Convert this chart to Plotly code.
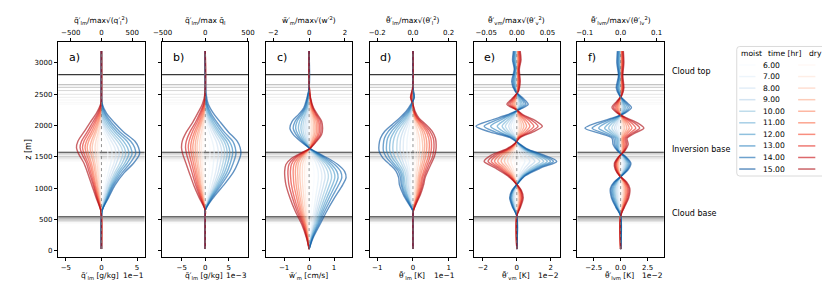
import plotly.graph_objects as go

# ---------------- data ----------------
TIMES = [6, 7, 8, 9, 10, 11, 12, 13, 14, 15]
TIME_LABELS = ["6.00", "7.00", "8.00", "9.00", "10.00", "11.00", "12.00", "13.00", "14.00", "15.00"]

# heights of the boundary lines per time [m]
CLOUD_TOP = [2340, 2360, 2372, 2409, 2452, 2500, 2560, 2612, 2653, 2813]
INV_BASE = [1432, 1440, 1450, 1459, 1475, 1485, 1500, 1512, 1549, 1576]
CLOUD_BASE = [440, 450, 459, 465, 470, 478, 485, 500, 517, 544]

# panel a/b heights
Z_AB = [30, 560, 650, 850, 1050, 1250, 1400, 1550, 1650, 1750, 1900, 2050, 2200, 2350, 2500, 3190]
# a) q_t' [1e-1 g/kg]
QT_MOIST = [
    [0, 0, 0.02, 0.15, 0.33, 0.55, 0.8, 0.9, 0.8, 0.55, 0.2, 0.05, 0, 0, 0, 0],
    [0, 0, 0.03, 0.25, 0.55, 0.95, 1.3, 1.5, 1.35, 1.0, 0.4, 0.1, 0, 0, 0, 0],
    [0, 0, 0.05, 0.35, 0.75, 1.25, 1.75, 2.05, 1.85, 1.4, 0.65, 0.15, 0, 0, 0, 0],
    [0, 0, 0.05, 0.45, 0.9, 1.55, 2.1, 2.5, 2.3, 1.8, 0.9, 0.25, 0, 0, 0, 0],
    [0, 0, 0.05, 0.55, 1.1, 1.85, 2.55, 3.0, 2.8, 2.25, 1.2, 0.4, 0.05, 0, 0, 0],
    [0, 0, 0.1, 0.65, 1.25, 2.1, 2.9, 3.4, 3.2, 2.65, 1.5, 0.6, 0.1, 0, 0, 0],
    [0, 0, 0.1, 0.75, 1.4, 2.35, 3.25, 3.85, 3.65, 3.1, 1.85, 0.85, 0.2, 0, 0, 0],
    [0, 0, 0.1, 0.8, 1.55, 2.6, 3.6, 4.3, 4.1, 3.6, 2.2, 1.1, 0.35, 0, 0, 0],
    [0, 0, 0.1, 0.9, 1.7, 2.9, 4.0, 4.8, 4.65, 4.1, 2.6, 1.4, 0.5, 0.05, 0, 0],
    [0, 0, 0.1, 1.0, 1.9, 3.2, 4.5, 5.35, 5.2, 4.7, 3.1, 1.8, 0.7, 0.1, 0, 0],
]
QT_DRY = [
    [0, 0, -0.01, -0.08, -0.14, -0.2, -0.26, -0.34, -0.37, -0.32, -0.18, -0.07, 0, 0, 0, 0],
    [0, 0, -0.02, -0.13, -0.23, -0.33, -0.42, -0.55, -0.6, -0.52, -0.3, -0.12, 0, 0, 0, 0],
    [0, 0, -0.03, -0.2, -0.35, -0.5, -0.63, -0.82, -0.9, -0.78, -0.45, -0.2, -0.03, 0, 0, 0],
    [0, 0, -0.04, -0.28, -0.5, -0.72, -0.9, -1.2, -1.3, -1.15, -0.7, -0.33, -0.07, 0, 0, 0],
    [0, 0, -0.05, -0.35, -0.62, -0.9, -1.12, -1.47, -1.6, -1.42, -0.9, -0.45, -0.1, 0, 0, 0],
    [0, 0, -0.06, -0.43, -0.78, -1.12, -1.4, -1.83, -2.0, -1.8, -1.15, -0.6, -0.15, 0, 0, 0],
    [0, 0, -0.07, -0.5, -0.9, -1.3, -1.62, -2.1, -2.3, -2.1, -1.4, -0.8, -0.25, 0, 0, 0],
    [0, 0, -0.08, -0.58, -1.03, -1.5, -1.87, -2.43, -2.66, -2.45, -1.7, -1.0, -0.35, 0, 0, 0],
    [0, 0, -0.1, -0.65, -1.15, -1.7, -2.1, -2.75, -3.0, -2.8, -2.0, -1.25, -0.5, -0.05, 0, 0],
    [0, 0, -0.1, -0.75, -1.35, -1.95, -2.45, -3.2, -3.5, -3.3, -2.45, -1.6, -0.7, -0.1, 0, 0],
]
# b) q_l' [1e-3 g/kg]
QL_MOIST = [
    [0, 0, 0, 0.22, 0.5, 0.77, 0.9, 1.0, 0.95, 0.78, 0.42, 0.15, 0.03, 0, 0, 0],
    [0, 0, 0, 0.43, 0.98, 1.48, 1.73, 1.9, 1.8, 1.5, 0.85, 0.35, 0.08, 0, 0, 0],
    [0, 0, 0, 0.63, 1.44, 2.18, 2.55, 2.8, 2.65, 2.3, 1.35, 0.6, 0.15, 0, 0, 0],
    [0, 0, 0, 0.78, 1.8, 2.71, 3.17, 3.5, 3.35, 2.9, 1.8, 0.85, 0.25, 0, 0, 0],
    [0, 0, 0, 0.92, 2.1, 3.2, 3.73, 4.1, 3.95, 3.45, 2.2, 1.1, 0.35, 0.05, 0, 0],
    [0, 0, 0, 1.05, 2.4, 3.63, 4.24, 4.65, 4.5, 4.0, 2.6, 1.4, 0.5, 0.1, 0, 0],
    [0, 0, 0, 1.17, 2.7, 4.07, 4.76, 5.2, 5.05, 4.5, 3.0, 1.7, 0.7, 0.15, 0, 0],
    [0, 0, 0, 1.3, 3.0, 4.55, 5.3, 5.8, 5.7, 5.1, 3.5, 2.1, 0.9, 0.25, 0, 0],
    [0, 0, 0, 1.46, 3.35, 5.07, 5.93, 6.5, 6.36, 5.85, 4.0, 2.5, 1.2, 0.35, 0.05, 0],
    [0, 0, 0, 1.7, 3.9, 5.9, 6.9, 7.55, 7.4, 6.8, 4.9, 3.25, 1.7, 0.6, 0.2, 0],
]
QL_DRY = [
    [0, 0, 0, -0.13, -0.25, -0.34, -0.41, -0.48, -0.5, -0.47, -0.33, -0.17, -0.05, 0, 0, 0],
    [0, 0, 0, -0.22, -0.42, -0.58, -0.7, -0.82, -0.85, -0.8, -0.58, -0.3, -0.08, 0, 0, 0],
    [0, 0, 0, -0.33, -0.61, -0.85, -1.03, -1.2, -1.25, -1.18, -0.85, -0.45, -0.15, 0, 0, 0],
    [0, 0, 0, -0.46, -0.86, -1.19, -1.44, -1.68, -1.75, -1.65, -1.25, -0.7, -0.25, 0, 0, 0],
    [0, 0, 0, -0.56, -1.05, -1.46, -1.76, -2.06, -2.15, -2.05, -1.55, -0.9, -0.35, -0.05, 0, 0],
    [0, 0, 0, -0.68, -1.27, -1.77, -2.13, -2.5, -2.65, -2.5, -1.95, -1.15, -0.5, -0.1, 0, 0],
    [0, 0, 0, -0.79, -1.5, -2.07, -2.5, -2.93, -3.1, -2.95, -2.3, -1.4, -0.7, -0.15, 0, 0],
    [0, 0, 0, -0.92, -1.74, -2.41, -2.91, -3.41, -3.6, -3.45, -2.75, -1.75, -0.9, -0.25, 0, 0],
    [0, 0, 0, -1.08, -2.03, -2.82, -3.4, -3.98, -4.2, -4.05, -3.25, -2.1, -1.15, -0.35, 0, 0],
    [0, 0, 0, -1.3, -2.45, -3.4, -4.1, -4.8, -5.05, -4.9, -4.0, -2.7, -1.6, -0.6, -0.1, 0],
]

# c) w' [cm/s]
Z_C = [30, 200, 420, 630, 850, 1060, 1170, 1270, 1380, 1480, 1570, 1640, 1750, 1860, 1960, 2070, 2180, 2280, 2440, 2600, 3190]
W_MOIST = [
    [0, 0.02, 0.06, 0.09, 0.14, 0.18, 0.2, 0.19, 0.16, 0.1, 0.04, 0, 0, -0.01, -0.01, -0.01, 0, 0, 0, 0, 0],
    [0, 0.04, 0.11, 0.18, 0.26, 0.34, 0.37, 0.36, 0.29, 0.19, 0.08, 0, -0.02, -0.04, -0.05, -0.04, -0.03, -0.01, 0, 0, 0],
    [0, 0.05, 0.15, 0.24, 0.35, 0.47, 0.51, 0.49, 0.4, 0.26, 0.11, 0.01, -0.05, -0.08, -0.1, -0.09, -0.05, -0.03, -0.01, 0, 0],
    [0, 0.06, 0.19, 0.3, 0.44, 0.58, 0.64, 0.61, 0.5, 0.33, 0.14, 0.01, -0.08, -0.14, -0.17, -0.15, -0.09, -0.05, -0.02, 0, 0],
    [0, 0.08, 0.22, 0.36, 0.53, 0.7, 0.77, 0.74, 0.6, 0.4, 0.17, 0.01, -0.11, -0.21, -0.25, -0.22, -0.14, -0.07, -0.03, 0, 0],
    [0, 0.09, 0.26, 0.43, 0.62, 0.82, 0.9, 0.86, 0.7, 0.46, 0.2, 0.01, -0.15, -0.28, -0.33, -0.29, -0.18, -0.09, -0.04, 0, 0],
    [0, 0.1, 0.3, 0.49, 0.71, 0.94, 1.03, 0.99, 0.8, 0.53, 0.23, 0.01, -0.2, -0.36, -0.43, -0.38, -0.24, -0.12, -0.05, 0, 0],
    [0, 0.12, 0.34, 0.55, 0.8, 1.06, 1.16, 1.11, 0.9, 0.6, 0.26, 0.02, -0.25, -0.45, -0.54, -0.48, -0.29, -0.15, -0.06, 0, 0],
    [0, 0.13, 0.38, 0.62, 0.9, 1.19, 1.31, 1.26, 1.02, 0.67, 0.29, 0.02, -0.29, -0.53, -0.64, -0.56, -0.35, -0.18, -0.07, 0, 0],
    [0, 0.15, 0.43, 0.7, 1.02, 1.35, 1.48, 1.42, 1.15, 0.76, 0.33, 0.02, -0.35, -0.64, -0.77, -0.68, -0.42, -0.22, -0.09, 0, 0],
]
W_DRY = [
    [0, -0.01, -0.03, -0.05, -0.07, -0.09, -0.09, -0.09, -0.09, -0.06, -0.03, 0, 0.02, 0.03, 0.03, 0.03, 0.02, 0.01, 0, 0, 0],
    [0, -0.02, -0.05, -0.1, -0.14, -0.17, -0.18, -0.18, -0.17, -0.13, -0.05, 0.01, 0.04, 0.07, 0.07, 0.07, 0.04, 0.02, 0.01, 0, 0],
    [0, -0.03, -0.08, -0.15, -0.21, -0.26, -0.27, -0.27, -0.26, -0.19, -0.08, 0.01, 0.07, 0.11, 0.12, 0.11, 0.07, 0.04, 0.01, 0, 0],
    [0, -0.04, -0.11, -0.21, -0.29, -0.35, -0.37, -0.37, -0.35, -0.26, -0.11, 0.02, 0.1, 0.17, 0.18, 0.17, 0.11, 0.06, 0.02, 0, 0],
    [0, -0.05, -0.14, -0.26, -0.36, -0.44, -0.45, -0.46, -0.44, -0.33, -0.14, 0.02, 0.13, 0.22, 0.24, 0.22, 0.15, 0.08, 0.03, 0, 0],
    [0, -0.06, -0.16, -0.31, -0.43, -0.52, -0.54, -0.55, -0.52, -0.39, -0.16, 0.03, 0.17, 0.28, 0.3, 0.28, 0.18, 0.1, 0.03, 0, 0],
    [0, -0.07, -0.19, -0.36, -0.5, -0.61, -0.63, -0.64, -0.61, -0.46, -0.19, 0.03, 0.2, 0.34, 0.36, 0.34, 0.22, 0.12, 0.04, 0, 0],
    [0, -0.08, -0.22, -0.42, -0.59, -0.71, -0.74, -0.75, -0.71, -0.54, -0.22, 0.04, 0.23, 0.39, 0.42, 0.39, 0.26, 0.14, 0.05, 0.01, 0],
    [0, -0.09, -0.25, -0.48, -0.67, -0.81, -0.84, -0.85, -0.81, -0.61, -0.25, 0.04, 0.27, 0.45, 0.48, 0.45, 0.29, 0.16, 0.05, 0.01, 0],
    [0, -0.1, -0.29, -0.55, -0.77, -0.93, -0.97, -0.98, -0.93, -0.7, -0.29, 0.05, 0.3, 0.5, 0.54, 0.5, 0.33, 0.18, 0.06, 0.01, 0],
]

# d) theta_l' [1e-1 K]
Z_D = [30, 560, 640, 750, 900, 1060, 1170, 1280, 1380, 1490, 1600, 1700, 1800, 1910, 2020, 2120, 2230, 2340, 2450, 2600, 3190]
THL_MOIST = [
    [0, 0, 0, -0.01, -0.02, -0.03, -0.03, -0.04, -0.05, -0.07, -0.08, -0.08, -0.08, -0.06, -0.04, -0.02, -0.01, 0, 0, 0, 0],
    [0, 0, 0, -0.02, -0.05, -0.07, -0.07, -0.09, -0.12, -0.15, -0.17, -0.17, -0.16, -0.13, -0.09, -0.05, -0.02, 0, 0, 0, 0],
    [0, 0, 0, -0.03, -0.08, -0.11, -0.11, -0.14, -0.18, -0.24, -0.27, -0.27, -0.26, -0.21, -0.14, -0.08, -0.03, 0, 0, 0, 0],
    [0, 0, 0, -0.05, -0.1, -0.14, -0.15, -0.18, -0.25, -0.32, -0.36, -0.36, -0.34, -0.28, -0.19, -0.11, -0.04, -0.01, 0, 0, 0],
    [0, 0, 0, -0.06, -0.13, -0.18, -0.19, -0.23, -0.31, -0.4, -0.45, -0.45, -0.43, -0.36, -0.25, -0.14, -0.06, -0.01, 0.01, 0, 0],
    [0, 0, 0, -0.07, -0.16, -0.22, -0.24, -0.28, -0.38, -0.5, -0.56, -0.56, -0.53, -0.45, -0.31, -0.18, -0.08, -0.02, 0.01, 0, 0],
    [0, 0, 0, -0.08, -0.18, -0.26, -0.27, -0.33, -0.44, -0.58, -0.65, -0.65, -0.62, -0.52, -0.37, -0.22, -0.1, -0.02, 0.02, 0, 0],
    [0, 0, 0, -0.09, -0.21, -0.3, -0.31, -0.37, -0.51, -0.66, -0.74, -0.74, -0.71, -0.6, -0.43, -0.27, -0.12, -0.03, 0.02, 0, 0],
    [0, 0, 0, -0.1, -0.24, -0.33, -0.35, -0.42, -0.57, -0.74, -0.83, -0.83, -0.8, -0.69, -0.5, -0.32, -0.15, -0.04, 0.03, 0, 0],
    [0, 0, 0, -0.12, -0.27, -0.38, -0.4, -0.48, -0.65, -0.85, -0.95, -0.95, -0.91, -0.79, -0.58, -0.38, -0.19, -0.06, 0.04, 0, 0],
]
THL_DRY = [
    [0, 0, 0, 0.01, 0.02, 0.03, 0.03, 0.04, 0.05, 0.05, 0.06, 0.06, 0.06, 0.04, 0.02, 0.01, 0, 0, 0, 0, 0],
    [0, 0, 0, 0.02, 0.04, 0.06, 0.07, 0.08, 0.1, 0.12, 0.13, 0.13, 0.12, 0.1, 0.05, 0.02, 0, 0, 0, 0, 0],
    [0, 0, 0, 0.03, 0.06, 0.09, 0.1, 0.12, 0.15, 0.17, 0.19, 0.19, 0.18, 0.14, 0.08, 0.03, 0, 0, -0.01, 0, 0],
    [0, 0, 0, 0.04, 0.09, 0.12, 0.14, 0.17, 0.21, 0.24, 0.27, 0.27, 0.25, 0.21, 0.12, 0.05, 0.01, 0, -0.02, 0, 0],
    [0, 0, 0, 0.05, 0.11, 0.15, 0.17, 0.21, 0.25, 0.3, 0.32, 0.33, 0.31, 0.26, 0.16, 0.06, 0.01, 0, -0.02, 0, 0],
    [0, 0, 0, 0.05, 0.13, 0.18, 0.2, 0.25, 0.3, 0.35, 0.38, 0.39, 0.37, 0.31, 0.19, 0.08, 0.02, 0, -0.03, 0, 0],
    [0, 0, 0.01, 0.06, 0.15, 0.21, 0.24, 0.3, 0.35, 0.42, 0.45, 0.46, 0.44, 0.37, 0.23, 0.1, 0.02, 0, -0.04, 0, 0],
    [0, 0, 0.01, 0.07, 0.17, 0.24, 0.27, 0.34, 0.4, 0.47, 0.51, 0.52, 0.5, 0.42, 0.27, 0.12, 0.03, 0, -0.05, 0, 0],
    [0, 0, 0.01, 0.08, 0.19, 0.27, 0.31, 0.38, 0.45, 0.54, 0.58, 0.59, 0.57, 0.48, 0.31, 0.14, 0.04, 0, -0.06, -0.01, 0],
    [0, 0, 0.01, 0.09, 0.21, 0.3, 0.34, 0.42, 0.5, 0.59, 0.64, 0.65, 0.63, 0.54, 0.36, 0.17, 0.06, 0, -0.07, -0.01, 0],
]

# e) theta_v' [1e-2 K]
Z_E = [30, 560, 700, 850, 960, 1060, 1200, 1330, 1430, 1530, 1630, 1720, 1810, 1900, 1990, 2080, 2170, 2250, 2340, 2430, 2550, 2700, 2900, 3050, 3190]
THV_MOIST = [
    [0, 0, -0.02, -0.03, -0.02, 0, 0.04, 0.12, 0.19, 0.13, 0.05, 0.01, -0.01, -0.05, -0.08, -0.05, -0.02, 0, 0.02, 0.01, 0, -0.01, 0, -0.01, -0.01],
    [0, 0, -0.05, -0.09, -0.06, 0, 0.1, 0.3, 0.48, 0.33, 0.12, 0.02, -0.03, -0.13, -0.19, -0.13, -0.05, 0.01, 0.05, 0.03, -0.01, -0.02, -0.01, -0.02, -0.02],
    [0, 0, -0.08, -0.14, -0.1, 0, 0.16, 0.48, 0.77, 0.52, 0.2, 0.03, -0.06, -0.23, -0.35, -0.23, -0.09, 0.01, 0.1, 0.06, -0.01, -0.04, -0.02, -0.04, -0.03],
    [0, 0, -0.11, -0.19, -0.14, 0, 0.23, 0.65, 1.06, 0.72, 0.27, 0.05, -0.08, -0.32, -0.48, -0.32, -0.12, 0.02, 0.13, 0.08, -0.02, -0.06, -0.03, -0.05, -0.04],
    [0, 0, -0.14, -0.24, -0.17, 0, 0.29, 0.83, 1.35, 0.92, 0.34, 0.06, -0.11, -0.45, -0.67, -0.45, -0.17, 0.03, 0.19, 0.11, -0.03, -0.08, -0.04, -0.07, -0.06],
    [0, 0, -0.17, -0.28, -0.2, 0, 0.34, 0.97, 1.58, 1.08, 0.4, 0.07, -0.14, -0.58, -0.86, -0.58, -0.22, 0.04, 0.24, 0.14, -0.04, -0.11, -0.05, -0.09, -0.07],
    [0, 0, -0.19, -0.32, -0.23, 0, 0.38, 1.1, 1.79, 1.22, 0.46, 0.08, -0.19, -0.77, -1.15, -0.77, -0.29, 0.05, 0.32, 0.19, -0.05, -0.14, -0.07, -0.12, -0.1],
    [0, 0, -0.21, -0.35, -0.25, 0, 0.42, 1.22, 1.98, 1.35, 0.51, 0.08, -0.26, -1.02, -1.54, -1.02, -0.38, 0.06, 0.43, 0.26, -0.06, -0.19, -0.1, -0.16, -0.13],
    [0, 0, -0.23, -0.38, -0.27, 0, 0.46, 1.33, 2.15, 1.46, 0.55, 0.09, -0.32, -1.28, -1.92, -1.28, -0.48, 0.08, 0.54, 0.32, -0.08, -0.24, -0.12, -0.2, -0.16],
    [0, 0, -0.25, -0.42, -0.3, 0, 0.5, 1.45, 2.35, 1.6, 0.6, 0.1, -0.4, -1.6, -2.4, -1.6, -0.6, 0.1, 0.67, 0.4, -0.1, -0.3, -0.15, -0.25, -0.2],
]
THV_DRY = [
    [0, 0, 0.02, 0.03, 0.02, 0, -0.04, -0.1, -0.15, -0.12, -0.05, -0.01, 0.01, 0.03, 0.05, 0.03, 0.01, 0, -0.02, -0.01, 0, 0.01, 0, 0.01, 0.01],
    [0, 0, 0.04, 0.07, 0.05, 0, -0.1, -0.23, -0.35, -0.27, -0.11, -0.02, 0.02, 0.08, 0.12, 0.09, 0.03, 0, -0.05, -0.02, 0.01, 0.02, 0.01, 0.02, 0.02],
    [0, 0, 0.06, 0.11, 0.08, 0, -0.15, -0.36, -0.54, -0.42, -0.17, -0.03, 0.03, 0.12, 0.19, 0.14, 0.05, 0, -0.08, -0.04, 0.01, 0.03, 0.02, 0.03, 0.03],
    [0, 0, 0.08, 0.14, 0.11, 0, -0.21, -0.49, -0.73, -0.57, -0.23, -0.04, 0.04, 0.18, 0.29, 0.21, 0.08, 0, -0.11, -0.06, 0.02, 0.04, 0.03, 0.05, 0.04],
    [0, 0, 0.11, 0.18, 0.13, 0, -0.26, -0.62, -0.92, -0.72, -0.29, -0.05, 0.06, 0.27, 0.42, 0.31, 0.11, 0, -0.16, -0.08, 0.03, 0.06, 0.04, 0.07, 0.06],
    [0, 0, 0.13, 0.22, 0.16, 0, -0.32, -0.75, -1.12, -0.87, -0.35, -0.06, 0.08, 0.37, 0.58, 0.43, 0.16, 0, -0.23, -0.11, 0.04, 0.08, 0.06, 0.1, 0.08],
    [0, 0, 0.15, 0.26, 0.19, 0, -0.37, -0.88, -1.31, -1.02, -0.41, -0.07, 0.1, 0.49, 0.77, 0.56, 0.2, 0, -0.3, -0.15, 0.05, 0.1, 0.08, 0.13, 0.1],
    [0, 0, 0.17, 0.3, 0.22, 0, -0.43, -1.01, -1.5, -1.17, -0.47, -0.08, 0.13, 0.64, 1.0, 0.74, 0.27, 0, -0.39, -0.19, 0.07, 0.13, 0.1, 0.17, 0.13],
    [0, 0, 0.19, 0.33, 0.25, 0, -0.48, -1.14, -1.69, -1.32, -0.53, -0.09, 0.17, 0.8, 1.25, 0.91, 0.33, 0, -0.48, -0.24, 0.08, 0.17, 0.12, 0.21, 0.17],
    [0, 0, 0.22, 0.38, 0.28, 0, -0.55, -1.3, -1.92, -1.5, -0.6, -0.1, 0.2, 0.96, 1.5, 1.1, 0.4, 0, -0.58, -0.29, 0.1, 0.2, 0.15, 0.25, 0.2],
]

# f) theta_lv' [1e-2 K]
Z_F = [30, 560, 700, 850, 1000, 1100, 1200, 1300, 1400, 1500, 1600, 1700, 1800, 1880, 1960, 2040, 2120, 2200, 2290, 2380, 2480, 2600, 2800, 3000, 3190]
THLV_MOIST = [
    [0, 0, -0.05, -0.09, -0.1, -0.06, 0.01, 0.07, 0.1, 0.05, -0.03, -0.02, -0.02, -0.05, -0.09, -0.06, -0.02, 0.01, 0.03, 0.01, 0, -0.01, -0.01, -0.01, -0.01],
    [0, 0, -0.09, -0.17, -0.19, -0.12, 0.02, 0.14, 0.19, 0.1, -0.06, -0.05, -0.05, -0.13, -0.21, -0.15, -0.05, 0.03, 0.07, 0.03, -0.01, -0.03, -0.01, -0.02, -0.02],
    [0, 0, -0.14, -0.26, -0.29, -0.18, 0.03, 0.21, 0.29, 0.15, -0.09, -0.08, -0.1, -0.24, -0.4, -0.28, -0.1, 0.05, 0.12, 0.06, -0.01, -0.05, -0.02, -0.04, -0.04],
    [0, 0, -0.18, -0.34, -0.38, -0.24, 0.04, 0.28, 0.38, 0.2, -0.12, -0.12, -0.14, -0.35, -0.58, -0.4, -0.14, 0.07, 0.18, 0.09, -0.02, -0.07, -0.04, -0.06, -0.05],
    [0, 0, -0.23, -0.43, -0.48, -0.3, 0.05, 0.35, 0.48, 0.25, -0.15, -0.18, -0.2, -0.5, -0.82, -0.58, -0.2, 0.1, 0.25, 0.13, -0.03, -0.1, -0.05, -0.09, -0.08],
    [0, 0, -0.27, -0.51, -0.57, -0.36, 0.06, 0.42, 0.57, 0.3, -0.18, -0.24, -0.27, -0.68, -1.12, -0.78, -0.27, 0.14, 0.34, 0.17, -0.03, -0.14, -0.07, -0.12, -0.1],
    [0, 0, -0.32, -0.6, -0.67, -0.42, 0.07, 0.49, 0.67, 0.35, -0.21, -0.32, -0.36, -0.9, -1.48, -1.04, -0.36, 0.18, 0.45, 0.23, -0.05, -0.18, -0.09, -0.16, -0.14],
    [0, 0, -0.36, -0.68, -0.76, -0.48, 0.08, 0.56, 0.76, 0.4, -0.24, -0.43, -0.49, -1.23, -2.03, -1.41, -0.49, 0.25, 0.62, 0.31, -0.06, -0.25, -0.12, -0.22, -0.18],
    [0, 0, -0.41, -0.77, -0.86, -0.54, 0.09, 0.63, 0.86, 0.45, -0.27, -0.56, -0.64, -1.6, -2.64, -1.84, -0.64, 0.32, 0.8, 0.4, -0.08, -0.32, -0.16, -0.28, -0.24],
    [0, 0, -0.45, -0.85, -0.95, -0.6, 0.1, 0.7, 0.95, 0.5, -0.3, -0.7, -0.8, -2.0, -3.3, -2.3, -0.8, 0.4, 1.0, 0.5, -0.1, -0.4, -0.2, -0.35, -0.3],
]
THLV_DRY = [
    [0, 0, 0.04, 0.08, 0.09, 0.06, -0.01, -0.05, -0.06, -0.02, 0.04, 0.02, 0.02, 0.04, 0.06, 0.04, 0.02, -0.01, -0.02, -0.01, 0, 0.01, 0.01, 0.01, 0.01],
    [0, 0, 0.07, 0.15, 0.17, 0.11, -0.02, -0.1, -0.12, -0.04, 0.08, 0.05, 0.04, 0.09, 0.15, 0.11, 0.04, -0.02, -0.06, -0.03, 0.01, 0.02, 0.01, 0.02, 0.02],
    [0, 0, 0.11, 0.23, 0.26, 0.17, -0.03, -0.15, -0.17, -0.06, 0.12, 0.09, 0.08, 0.16, 0.27, 0.2, 0.08, -0.04, -0.1, -0.05, 0.01, 0.04, 0.03, 0.04, 0.03],
    [0, 0, 0.14, 0.3, 0.34, 0.22, -0.04, -0.2, -0.23, -0.08, 0.16, 0.13, 0.11, 0.23, 0.39, 0.29, 0.11, -0.05, -0.14, -0.07, 0.02, 0.05, 0.04, 0.05, 0.05],
    [0, 0, 0.18, 0.38, 0.43, 0.28, -0.05, -0.25, -0.29, -0.1, 0.2, 0.19, 0.16, 0.35, 0.58, 0.43, 0.16, -0.08, -0.22, -0.11, 0.03, 0.08, 0.05, 0.08, 0.07],
    [0, 0, 0.21, 0.45, 0.51, 0.33, -0.06, -0.3, -0.35, -0.12, 0.24, 0.26, 0.22, 0.48, 0.8, 0.59, 0.22, -0.11, -0.3, -0.15, 0.04, 0.11, 0.07, 0.11, 0.09],
    [0, 0, 0.25, 0.53, 0.6, 0.39, -0.07, -0.35, -0.41, -0.14, 0.28, 0.34, 0.29, 0.64, 1.05, 0.78, 0.29, -0.15, -0.39, -0.2, 0.05, 0.15, 0.1, 0.15, 0.12],
    [0, 0, 0.28, 0.6, 0.68, 0.44, -0.08, -0.4, -0.46, -0.16, 0.32, 0.46, 0.39, 0.85, 1.4, 1.04, 0.39, -0.2, -0.52, -0.26, 0.07, 0.2, 0.13, 0.2, 0.16],
    [0, 0, 0.32, 0.68, 0.77, 0.5, -0.09, -0.45, -0.52, -0.18, 0.36, 0.57, 0.49, 1.07, 1.76, 1.31, 0.49, -0.25, -0.66, -0.33, 0.08, 0.25, 0.16, 0.25, 0.21],
    [0, 0, 0.35, 0.75, 0.85, 0.55, -0.1, -0.5, -0.58, -0.2, 0.4, 0.7, 0.6, 1.3, 2.15, 1.6, 0.6, -0.3, -0.8, -0.4, 0.1, 0.3, 0.2, 0.3, 0.25],
]

Z_TICKS = [0, 500, 1000, 1500, 2000, 2500, 3000]

# ---------------- styling / layout ----------------
FW, FH = 830, 283
FONT = "DejaVu Sans"
BLUES = [(0.0, (247, 251, 255)), (0.125, (222, 235, 247)), (0.25, (198, 219, 239)), (0.375, (158, 202, 225)),
         (0.5, (107, 174, 214)), (0.625, (66, 146, 198)), (0.75, (33, 113, 181)), (0.875, (8, 81, 156)), (1.0, (8, 48, 107))]
REDS = [(0.0, (255, 245, 240)), (0.125, (254, 224, 210)), (0.25, (252, 187, 161)), (0.375, (252, 146, 114)),
        (0.5, (251, 106, 74)), (0.625, (239, 59, 44)), (0.75, (203, 24, 29)), (0.875, (165, 15, 21)), (1.0, (103, 0, 13))]


def cmap(stops, f, alpha):
    for (p0, c0), (p1, c1) in zip(stops[:-1], stops[1:]):
        if f <= p1:
            t = (f - p0) / (p1 - p0)
            c = [round(a + (b - a) * t) for a, b in zip(c0, c1)]
            return "rgba(%d,%d,%d,%.2f)" % (c[0], c[1], c[2], alpha)
    c = stops[-1][1]
    return "rgba(%d,%d,%d,%.2f)" % (c[0], c[1], c[2], alpha)


NT = len(TIMES)
CPOS = [0.85 * k / (NT - 1) for k in range(NT)]
ALPHA = 0.65
BLUE_C = [cmap(BLUES, f, ALPHA) for f in CPOS]
RED_C = [cmap(REDS, f, ALPHA) for f in CPOS]
GREY_LVL = [0.02 + 0.36 * (k / (NT - 2)) ** 2.5 for k in range(NT - 1)] + [0.78]
GREY_C = ["rgb(%d,%d,%d)" % ((round(255 * (1 - g)),) * 3) for g in GREY_LVL]

PANELS = [
    dict(tag="a)", z=Z_AB, moist=QT_MOIST, dry=QT_DRY, rng=6.06, tv=[-5, 0, 5], tt=["−5", "0", "5"],
         trng=703, ttv=[-500, 0, 500], ttt=["−500", "0", "500"],
         xl="q̃′<sub>lm</sub> [g/kg]", tl="q̃′<sub>lm</sub>/max√(q′<sub>l</sub><sup>2</sup>)", off="1e−1"),
    dict(tag="b)", z=Z_AB, moist=QL_MOIST, dry=QL_DRY, rng=9.17, tv=[-5, 0, 5], tt=["−5", "0", "5"],
         trng=506, ttv=[-500, 0, 500], ttt=["−500", "0", "500"],
         xl="q̃′<sub>lm</sub> [g/kg]", tl="q̃′<sub>lm</sub>/max q̄<sub>l</sub>", off="1e−3"),
    dict(tag="c)", z=Z_C, moist=W_MOIST, dry=W_DRY, rng=1.73, tv=[-1, 0, 1], tt=["−1", "0", "1"],
         trng=2.41, ttv=[-2, 0, 2], ttt=["−2", "0", "2"],
         xl="w̃′<sub>m</sub> [cm/s]", tl="w̃′<sub>m</sub>/max√(w′<sup>2</sup>)", off=""),
    dict(tag="d)", z=Z_D, moist=THL_MOIST, dry=THL_DRY, rng=1.21, tv=[-1, 0, 1], tt=["−1", "0", "1"],
         trng=0.242, ttv=[-0.2, 0, 0.2], ttt=["−0.2", "0.0", "0.2"],
         xl="θ̃′<sub>lm</sub> [K]", tl="θ̃′<sub>lm</sub>/max√(θ′<sub>l</sub><sup>2</sup>)", off="1e−1"),
    dict(tag="e)", z=Z_E, moist=THV_MOIST, dry=THV_DRY, rng=2.54, tv=[-2, 0, 2], tt=["−2", "0", "2"],
         trng=0.0705, ttv=[-0.05, 0, 0.05], ttt=["−0.05", "0.00", "0.05"],
         xl="θ̃′<sub>vm</sub> [K]", tl="θ̃′<sub>vm</sub>/max√(θ′<sub>v</sub><sup>2</sup>)", off="1e−2"),
    dict(tag="f)", z=Z_F, moist=THLV_MOIST, dry=THLV_DRY, rng=4.0, tv=[-2.5, 0, 2.5], tt=["−2.5", "0.0", "2.5"],
         trng=0.12, ttv=[-0.1, 0, 0.1], ttt=["−0.1", "0.0", "0.1"],
         xl="θ̃′<sub>lvm</sub> [K]", tl="θ̃′<sub>lvm</sub>/max√(θ′<sub>lv</sub><sup>2</sup>)", off="1e−2"),
]

LEFT0, PW, STEP = 42.0, 88.0, 105.75
PTOP, PBOT = 34.0, 249.0
YDOM = [(FH - PBOT) / FH, (FH - PTOP) / FH]
YRANGE = [-96, 3335]
TICKFONT = dict(family=FONT, size=7, color="black")

fig = go.Figure()
layout = dict(width=FW, height=FH, margin=dict(l=0, r=0, t=0, b=0),
              paper_bgcolor="white", plot_bgcolor="white", showlegend=False,
              font=dict(family=FONT, color="black", size=8))
shapes, annotations = [], []

for i, p in enumerate(PANELS):
    n = i + 1
    xa = "x" if n == 1 else "x%d" % n
    ya = "y" if n == 1 else "y%d" % n
    xt = "x%d" % (n + 6)
    x0 = LEFT0 + i * STEP
    dom = [x0 / FW, (x0 + PW) / FW]

    for k in range(NT):
        fig.add_trace(go.Scatter(x=p["moist"][k], y=p["z"], mode="lines", xaxis=xa, yaxis=ya,
                                 line=dict(color=BLUE_C[k], width=1.4, shape="spline", smoothing=0.8),
                                 hoverinfo="skip"))
        fig.add_trace(go.Scatter(x=p["dry"][k], y=p["z"], mode="lines", xaxis=xa, yaxis=ya,
                                 line=dict(color=RED_C[k], width=1.4, shape="spline", smoothing=0.8),
                                 hoverinfo="skip"))
    # zero reference (dotted)
    fig.add_trace(go.Scatter(x=[0] * len(p["z"]), y=p["z"], mode="lines", xaxis=xa, yaxis=ya,
                             line=dict(color="rgba(120,120,120,0.8)", width=1.0, dash="dot"), hoverinfo="skip"))
    # dummy trace for top axis
    fig.add_trace(go.Scatter(x=[None], y=[None], xaxis=xt, yaxis=ya, mode="lines", hoverinfo="skip"))

    axkey = "xaxis" if n == 1 else "xaxis%d" % n
    aykey = "yaxis" if n == 1 else "yaxis%d" % n
    layout[axkey] = dict(domain=dom, anchor=ya, range=[-p["rng"], p["rng"]], tickvals=p["tv"], ticktext=p["tt"],
                         ticks="outside", ticklen=3.5, tickwidth=0.8, tickcolor="black", showline=True,
                         linecolor="black", linewidth=0.8, showgrid=False, zeroline=False, tickfont=TICKFONT)
    layout["xaxis%d" % (n + 6)] = dict(overlaying=xa, side="top", anchor=ya, range=[-p["trng"], p["trng"]],
                                      tickvals=p["ttv"], ticktext=p["ttt"], ticks="outside", ticklen=3.5,
                                      tickwidth=0.8, tickcolor="black", showline=True, linecolor="black",
                                      linewidth=0.8, showgrid=False, zeroline=False, tickfont=TICKFONT)
    layout[aykey] = dict(domain=YDOM, anchor=xa, range=YRANGE, tickvals=Z_TICKS, ticks="outside", ticklen=3.5,
                         tickwidth=0.8, tickcolor="black", showline=True, mirror=True, linecolor="black",
                         linewidth=0.8, showgrid=False, zeroline=False, tickfont=TICKFONT,
                         showticklabels=(n == 1))

    # boundary lines
    for series in (CLOUD_TOP, INV_BASE, CLOUD_BASE):
        for k, h in enumerate(series):
            shapes.append(dict(type="line", xref="%s domain" % xa, yref=ya, x0=0, x1=1, y0=h, y1=h,
                               layer="below", line=dict(color=GREY_C[k], width=1.2 if k == NT - 1 else 0.8)))

    cx = (x0 + PW / 2) / FW
    annotations.append(dict(text=p["tag"], xref="%s domain" % xa, yref="paper", x=0.1, y=(FH - 49) / FH,
                            xanchor="left", yanchor="middle", showarrow=False, font=dict(size=11, family=FONT)))
    annotations.append(dict(text=p["xl"], xref="paper", yref="paper", x=cx - 1 / FW, y=(FH - 268) / FH,
                            xanchor="center", yanchor="middle", showarrow=False, font=dict(size=7.5, family=FONT)))
    annotations.append(dict(text=p["tl"], xref="paper", yref="paper", x=cx, y=(FH - 13) / FH,
                            xanchor="center", yanchor="middle", showarrow=False, font=dict(size=7.5, family=FONT)))
    if p["off"]:
        annotations.append(dict(text=p["off"], xref="paper", yref="paper", x=(x0 + PW + 1) / FW, y=(FH - 267) / FH,
                                xanchor="right", yanchor="middle", showarrow=False, font=dict(size=7.5, family=FONT)))

# y title
annotations.append(dict(text="z [m]", xref="paper", yref="paper", x=11 / FW, y=(FH - 141) / FH, textangle=-90,
                        xanchor="center", yanchor="middle", showarrow=False, font=dict(size=8, family=FONT)))
# right-hand labels
for txt, series in (("Cloud top", CLOUD_TOP), ("Inversion base", INV_BASE), ("Cloud base", CLOUD_BASE)):
    annotations.append(dict(text=txt, xref="paper", yref="y6", x=665 / FW, y=series[-1], yshift=3,
                            xanchor="left", yanchor="middle", showarrow=False, font=dict(size=8, family=FONT)))


# legend (drawn manually)
def px(x):
    return x / FW


def py(y):
    return 1 - y / FH


bx0, by0, bx1, by1, r = 733, 38.5, 824.5, 168, 3
path = ("M %f,%f L %f,%f Q %f,%f %f,%f L %f,%f Q %f,%f %f,%f L %f,%f Q %f,%f %f,%f L %f,%f Q %f,%f %f,%f Z" % (
    px(bx0 + r), py(by0), px(bx1 - r), py(by0), px(bx1), py(by0), px(bx1), py(by0 + r),
    px(bx1), py(by1 - r), px(bx1), py(by1), px(bx1 - r), py(by1),
    px(bx0 + r), py(by1), px(bx0), py(by1), px(bx0), py(by1 - r),
    px(bx0), py(by0 + r), px(bx0), py(by0), px(bx0 + r), py(by0)))
shapes.append(dict(type="path", path=path, xref="paper", yref="paper", fillcolor="rgba(255,255,255,0.8)",
                   line=dict(color="#d0d0d0", width=0.8), layer="above"))
LFONT = dict(size=7.6, family=FONT, color="black")
for txt, xc in (("moist", 748.5), ("time [hr]", 781.5), ("dry", 813)):
    annotations.append(dict(text=txt, xref="paper", yref="paper", x=px(xc), y=py(45.5), xanchor="center",
                            yanchor="middle", showarrow=False, font=LFONT))
for k in range(NT):
    yrow = 57.0 + k * 11.56
    shapes.append(dict(type="line", xref="paper", yref="paper", x0=px(735.5), x1=px(752), y0=py(yrow), y1=py(yrow),
                       line=dict(color=BLUE_C[k], width=1.5), layer="above"))
    shapes.append(dict(type="line", xref="paper", yref="paper", x0=px(795.5), x1=px(813), y0=py(yrow), y1=py(yrow),
                       line=dict(color=RED_C[k], width=1.5), layer="above"))
    annotations.append(dict(text=TIME_LABELS[k], xref="paper", yref="paper", x=px(757.5), y=py(yrow),
                            xanchor="left", yanchor="middle", showarrow=False, font=LFONT))

layout["shapes"] = shapes
layout["annotations"] = annotations
fig.update_layout(**layout)
fig.write_html("out.html")
